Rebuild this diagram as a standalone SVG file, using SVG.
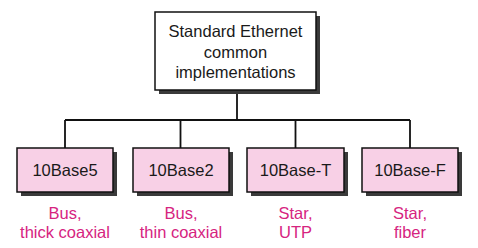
<svg xmlns="http://www.w3.org/2000/svg" width="478" height="248" viewBox="0 0 478 248">
  <style>
    .box { stroke: #111; stroke-width: 1.5; }
    .root { fill: #ffffff; }
    .leaf { fill: #f8d0e6; }
    .shadow { fill: #3a3a3a; }
    .t { font-family: "Liberation Sans", Arial, sans-serif; font-size: 16.5px; fill: #1a1a1a; text-anchor: middle; }
    .note { font-family: "Liberation Sans", Arial, sans-serif; font-size: 16.5px; fill: #d6247f; text-anchor: middle; }
    .wire { stroke: #111; stroke-width: 1.8; fill: none; }
  </style>
  <rect width="478" height="248" fill="#ffffff"/>

  <g id="connectors">
    <path class="wire" d="M237 90 V120 M65 120 H410 M65 120 V148 M180.5 120 V148 M295.5 120 V148 M410 120 V148"/>
  </g>

  <g id="root">
    <rect class="shadow" x="159" y="16" width="161" height="78"/>
    <rect class="box root" x="155" y="12" width="161" height="78"/>
    <text class="t" x="235.5" y="37">Standard Ethernet</text>
    <text class="t" x="235.5" y="58">common</text>
    <text class="t" x="235.5" y="78">implementations</text>
  </g>

  <g id="n10base5">
    <rect class="shadow" x="21" y="152" width="96" height="44"/>
    <rect class="box leaf" x="17" y="148" width="96" height="44"/>
    <text class="t" x="65" y="176">10Base5</text>
    <text class="note" x="65" y="219">Bus,</text>
    <text class="note" x="65" y="238">thick coaxial</text>
  </g>

  <g id="n10base2">
    <rect class="shadow" x="137" y="152" width="96" height="44"/>
    <rect class="box leaf" x="133" y="148" width="96" height="44"/>
    <text class="t" x="181" y="176">10Base2</text>
    <text class="note" x="181" y="219">Bus,</text>
    <text class="note" x="181" y="238">thin coaxial</text>
  </g>

  <g id="n10baseT">
    <rect class="shadow" x="251" y="152" width="97" height="44"/>
    <rect class="box leaf" x="247" y="148" width="97" height="44"/>
    <text class="t" x="295.5" y="176">10Base-T</text>
    <text class="note" x="295.5" y="219">Star,</text>
    <text class="note" x="295.5" y="238">UTP</text>
  </g>

  <g id="n10baseF">
    <rect class="shadow" x="366" y="152" width="96" height="44"/>
    <rect class="box leaf" x="362" y="148" width="96" height="44"/>
    <text class="t" x="410" y="176">10Base-F</text>
    <text class="note" x="410" y="219">Star,</text>
    <text class="note" x="410" y="238">fiber</text>
  </g>
</svg>
